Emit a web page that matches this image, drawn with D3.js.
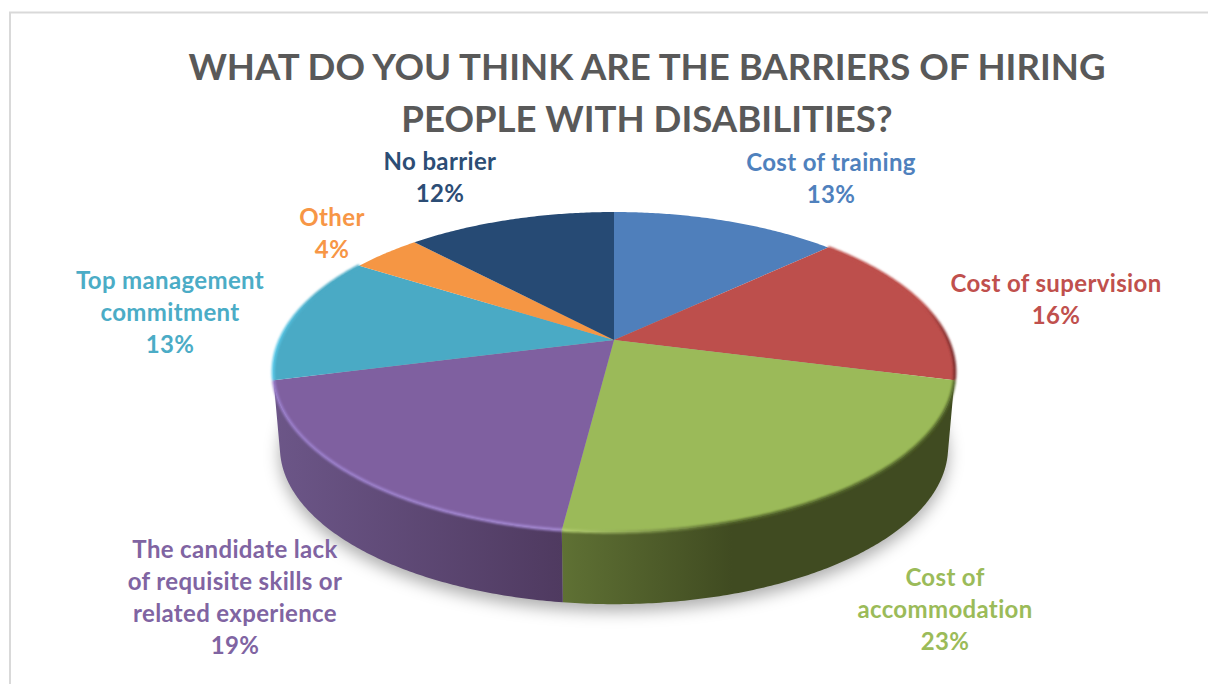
<!DOCTYPE html>
<html>
<head>
<meta charset="utf-8">
<script src="https://cdn.jsdelivr.net/npm/d3@7/dist/d3.min.js"></script>
<style>
  html, body { margin: 0; padding: 0; background: #fff; overflow: hidden; }
  svg { display: block; }
  text { font-family: Lato, "Open Sans", sans-serif; font-weight: 700; }
</style>
</head>
<body>
<svg id="chart" width="1208" height="684"></svg>
<script>
// Survey answers, in clockwise order from twelve o'clock
const categories = ["Cost of training", "Cost of supervision", "Cost of accommodation",
  "The candidate lack of requisite skills or related experience",
  "Top management commitment", "Other", "No barrier"];
const shares = [13, 16, 23, 19, 13, 4, 12];
const titleLines = ["WHAT DO YOU THINK ARE THE BARRIERS OF HIRING", "PEOPLE WITH DISABILITIES?"];
const labelLines = [
  ["Cost of training"], ["Cost of supervision"], ["Cost of", "accommodation"],
  ["The candidate lack", "of requisite skills or", "related experience"],
  ["Top management", "commitment"], ["Other"], ["No barrier"]
];

// Styling and placement, kept apart from the values
const topColors = ["#4f7fbb", "#bd4f4c", "#9bba59", "#7f60a0", "#4aaac5", "#f59644", "#264a74"];
const textColors = ["#4f81bd", "#c0504d", "#9bbb59", "#8064a2", "#4bacc6", "#f79646", "#2c4d75"];
const wallStops = {
  2: ["#5f7134", "#404b21"],
  3: ["#6c5688", "#4f3a60"]
};
const rimStops = {
  1: ["#bd4f4c", "#bd4f4c", "#bd4f4c", "#bd4f4c", "#7a2b2b"],
  2: ["#b4d070", "#55672c"],
  3: ["#9a7ecb", "#a488d2"],
  4: ["#58c8e8", "#4aaac5", "#4aaac5"]
};
const labelAnchors = [
  [831, 171], [1056, 292], [945, 586], [235, 558], [170, 289], [332, 226], [440, 170]
];
const lineGap = 32;

const svg = d3.select("#chart");
const defs = svg.append("defs");
defs.append("filter").attr("id", "soft").attr("x", "-20%").attr("y", "-20%").attr("width", "140%").attr("height", "140%")
  .append("feGaussianBlur").attr("stdDeviation", 8);
defs.append("filter").attr("id", "rimBlur").attr("x", "-10%").attr("y", "-10%").attr("width", "120%").attr("height", "120%")
  .append("feGaussianBlur").attr("stdDeviation", 1.3);

// Frame around the chart area
svg.append("path")
  .attr("d", d3.line()([[10, 684], [10, 12.5], [1208, 12.5]]))
  .attr("fill", "none").attr("stroke", "#d9d9d9").attr("stroke-width", 2);

// Tilted disc: a circle seen in perspective, with the far edge foreshortened
const apex = { x: 614, y: 340 };
const radius = 334, squash = 153.6, persp = 0.2;
const depth = { drop: 76, scale: 0.98 };

function project(theta, level) {
  const u = Math.sin(theta), v = -Math.cos(theta), w = 1 - persp * v;
  const s = level ? depth.scale : 1;
  return [apex.x + s * radius * u / w, apex.y + (level ? depth.drop : 0) + s * squash * v / w];
}
const arcPoints = (a0, a1, level) => {
  const n = Math.max(2, Math.ceil((a1 - a0) / 0.01));
  return d3.range(n + 1).map(i => project(a0 + (a1 - a0) * i / n, level));
};
const line = d3.line();

const slices = d3.pie().sort(null).value(d => d)(shares);

// Soft drop shadow under the disc
svg.append("path")
  .attr("d", line(arcPoints(0, 2 * Math.PI, 1)) + "Z")
  .attr("transform", "translate(0,7)")
  .attr("fill", "#000").attr("fill-opacity", 0.32)
  .attr("filter", "url(#soft)");

function horizontalGradient(id, x0, x1, stops) {
  const g = defs.append("linearGradient").attr("id", id)
    .attr("gradientUnits", "userSpaceOnUse")
    .attr("x1", x0).attr("x2", x1).attr("y1", 0).attr("y2", 0);
  const last = stops.length - 1;
  stops.forEach((c, i) => g.append("stop").attr("offset", i / last).attr("stop-color", c));
}

const indexed = slices.map((d, i) => ({ ...d, i }));
indexed.forEach(d => {
  const xs = d3.extent(arcPoints(d.startAngle, d.endAngle, 0), p => p[0]);
  // The green wall reaches its darkest tone well before the right edge
  const end = d.i === 2 ? xs[0] + 170 : xs[1];
  if (wallStops[d.i]) horizontalGradient("wall" + d.i, xs[0], end, wallStops[d.i]);
  if (rimStops[d.i]) horizontalGradient("rim" + d.i, xs[0], end, rimStops[d.i]);
});

// Cylinder wall, only for the slices that face the viewer
svg.append("g").selectAll("path").data(indexed.filter(d => wallStops[d.i])).join("path")
  .attr("d", d => line(arcPoints(d.startAngle, d.endAngle, 0)
    .concat(arcPoints(d.startAngle, d.endAngle, 1).reverse())) + "Z")
  .attr("fill", d => `url(#wall${d.i})`);

// Top face of the disc
svg.append("g").selectAll("path").data(indexed).join("path")
  .attr("d", d => line([[apex.x, apex.y]].concat(arcPoints(d.startAngle, d.endAngle, 0))) + "Z")
  .attr("fill", d => topColors[d.i]);

// Bevelled rim catching the light along the edge
svg.append("g").attr("filter", "url(#rimBlur)").selectAll("path")
  .data(indexed.filter(d => rimStops[d.i])).join("path")
  .attr("d", d => line(arcPoints(d.startAngle, d.endAngle, 0)))
  .attr("fill", "none")
  .attr("stroke", d => `url(#rim${d.i})`)
  .attr("stroke-width", 3);

// Title
svg.append("g").selectAll("text").data(titleLines).join("text")
  .attr("x", 647).attr("y", (d, i) => 80 + i * 52)
  .attr("text-anchor", "middle")
  .attr("font-size", 36.6).attr("fill", "#595959")
  .text(d => d);

// Slice labels: wrapped name followed by the percentage
const labels = svg.append("g").selectAll("g").data(indexed).join("g")
  .attr("fill", d => textColors[d.i])
  .attr("transform", d => `translate(${labelAnchors[d.i][0]},${labelAnchors[d.i][1]})`);
labels.selectAll("text")
  .data(d => labelLines[d.i].concat(d.value + "%"))
  .join("text")
  .attr("y", (d, i) => i * lineGap)
  .attr("text-anchor", "middle")
  .attr("font-size", 24)
  .attr("letter-spacing", 0.35)
  .text(d => d);
</script>
</body>
</html>
